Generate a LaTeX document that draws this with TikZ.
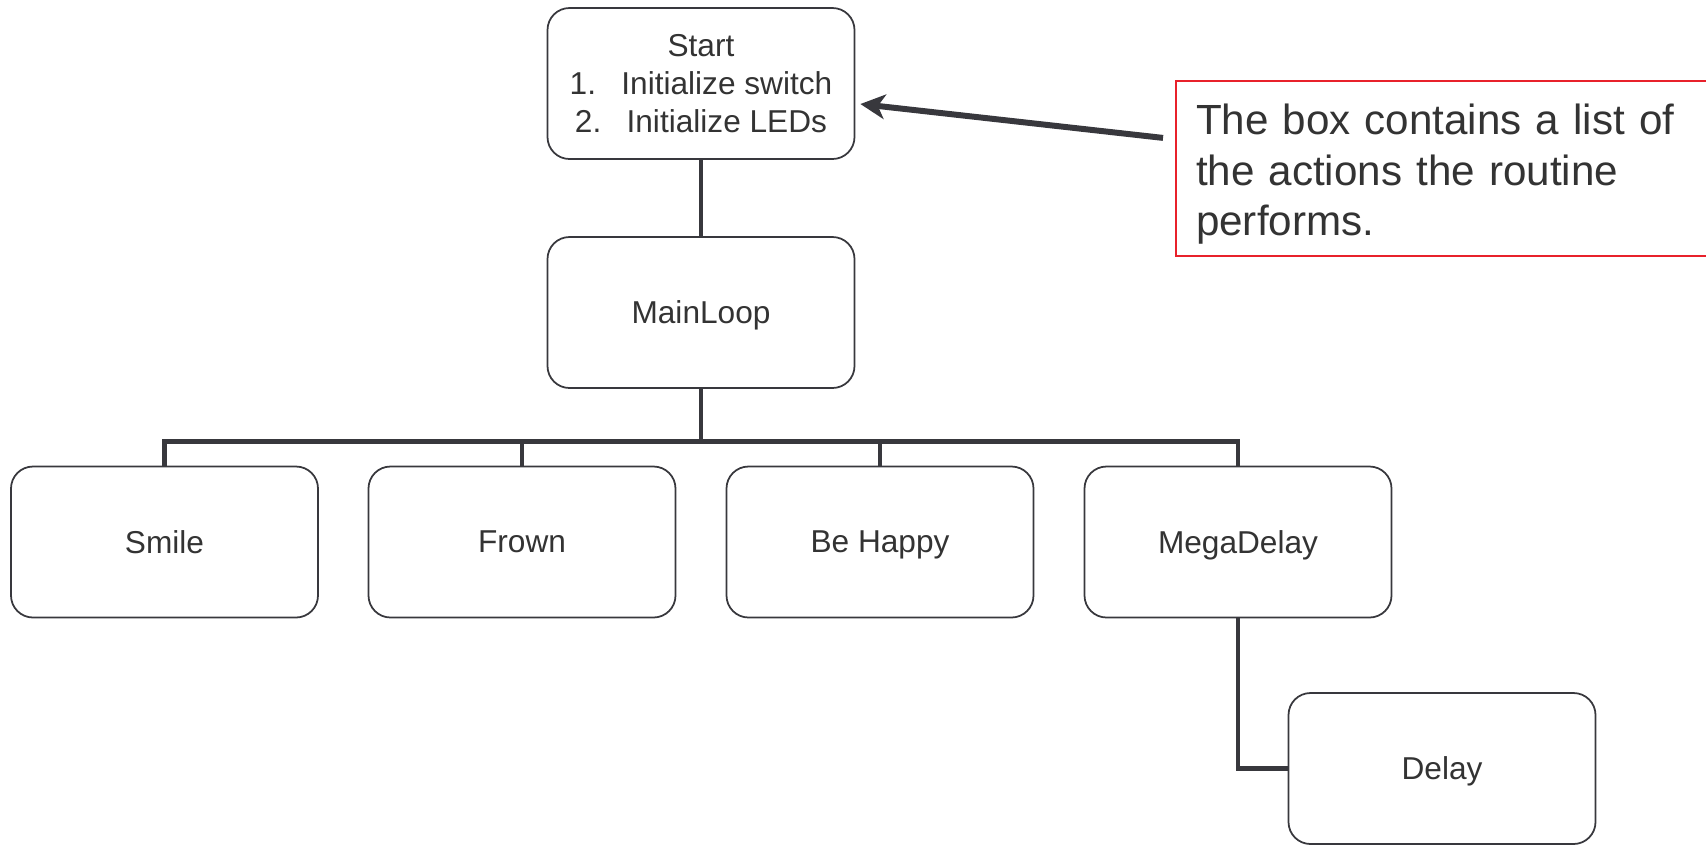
\documentclass[tikz,border=0pt]{standalone}
\usepackage{fontspec}
\setmainfont{Liberation Sans}
\usepackage{xcolor}
\usetikzlibrary{arrows.meta}
\definecolor{linegray}{HTML}{38383D}
\definecolor{textgray}{HTML}{333333}
\definecolor{noteRed}{HTML}{E8212B}
\tikzset{
	routine/.style={
			draw=linegray, line width=0.5pt, rounded corners=0.22cm,
			minimum width=3.07cm, minimum height=1.51cm,
			align=center, text=textgray, text depth=0pt,
			font=\fontsize{9}{10.8}\selectfont
		},
	link/.style={draw=linegray, line width=1.4pt},
	pointer/.style={draw=linegray, line width=1.7pt,
			-{Stealth[length=7pt,width=7pt,inset=2pt]}},
	note/.style={
			draw=noteRed, line width=0.6pt, anchor=north west,
			text width=5.4cm, inner xsep=0.2cm, inner ysep=0.11cm,
			align=left, text=textgray,
			font=\fontsize{12}{14.5}\selectfont
		}
}

\begin{document}
\begin{tikzpicture}
		\useasboundingbox (0,0) rectangle (17.06,-8.45);

		\node [routine] (start)		at (7.01,-0.835)	{Start\\1.\hspace{0.8em}Initialize switch\\2.\hspace{0.8em}Initialize LEDs};
		\node [routine] (mainloop)	at (7.01,-3.125)	{MainLoop};
		\node [routine] (smile)		at (1.645,-5.42)	{Smile};
		\node [routine] (frown)		at (5.22,-5.42)		{Frown};
		\node [routine] (behappy)	at (8.80,-5.42)		{Be Happy};
		\node [routine] (megadelay)	at (12.38,-5.42)	{MegaDelay};
		\node [routine] (delay)		at (14.42,-7.685)	{Delay};

		\node [note] (note) at (11.75,-0.80) {\rule{0pt}{0.42cm}The box contains a list of\\the actions the routine\\performs.};

		\draw [link]	(start) -- (mainloop);
		\draw [link]	(mainloop.south) -- ++(0,-0.53) coordinate (bus);
		\foreach \child in {smile,frown,behappy,megadelay}
			\draw [link]	(bus) -| (\child.north);
		\draw [link]	(megadelay.south) |- (delay.west);

		\draw [pointer]	([xshift=-0.12cm,yshift=0.305cm]note.west) -- ([xshift=0.05cm,yshift=-0.205cm]start.east);
	\end{tikzpicture}
\end{document}
